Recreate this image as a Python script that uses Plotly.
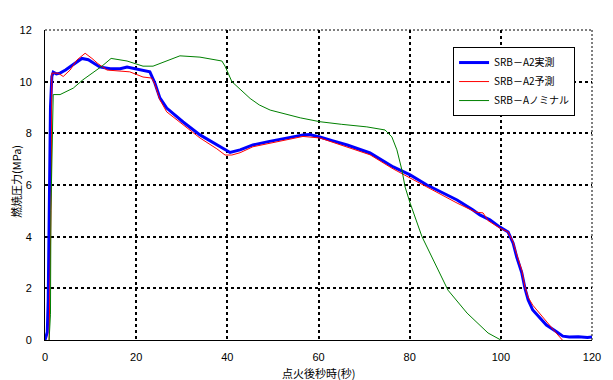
import plotly.graph_objects as go

# --- data ---
names = ["SRB－A2実測", "SRB－A2予測", "SRB－Aノミナル"]

t_meas = [0, 0.5, 0.7, 1.0, 1.2, 1.5, 1.8, 2.5, 3.3, 4.5, 6.2, 8.1, 9.5, 11, 12, 14.3, 16.5, 18,
          20.4, 23, 24.1, 25.2, 26.7, 28.5, 30.3, 34, 37.7, 40.6, 42.8, 45.6, 49, 53, 56.6, 58,
          60.3, 63, 66.3, 71.3, 76.4, 80.1, 83.8, 87, 90.4, 93.9, 95.4, 97.6, 99.8, 101.6, 102.7,
          103.5, 104.6, 105.3, 106, 107, 108.6, 110, 112.3, 113.6, 115, 117, 119, 120]
p_meas = [0, 0.3, 1.5, 5, 9, 10.2, 10.37, 10.3, 10.33, 10.45, 10.65, 10.9, 10.85, 10.7, 10.57,
          10.5, 10.5, 10.57, 10.49, 10.38, 9.95, 9.37, 8.98, 8.7, 8.44, 7.94, 7.55, 7.26, 7.36,
          7.55, 7.68, 7.82, 7.94, 7.95, 7.86, 7.72, 7.55, 7.24, 6.7, 6.39, 6.0, 5.72, 5.42, 5.03,
          4.84, 4.65, 4.37, 4.18, 3.75, 3.2, 2.6, 2.0, 1.55, 1.16, 0.85, 0.58, 0.31, 0.15, 0.12,
          0.13, 0.1, 0.12]

t_pred = [0.9, 1.1, 1.4, 1.5, 2.9, 4.0, 5.5, 7.0, 8.8, 10.3, 11.6, 13.6, 16.5, 18.6, 21.5, 23.4,
          24.1, 25.2, 26.7, 30.3, 34, 37.7, 39.5, 41, 42.8, 45.6, 53, 56.6, 60.3, 66.3, 71.3, 76.4,
          80.1, 83.8, 90.4, 94.5, 96.1, 97.2, 99.8, 101.6, 102.7, 103.5, 104.6, 105.3, 106, 107,
          108.6, 110, 112, 113.5]
p_pred = [0, 2, 6, 10.33, 10.33, 10.2, 10.45, 10.84, 11.1, 10.9, 10.7, 10.45, 10.4, 10.38, 10.18,
          10.14, 9.9, 9.3, 8.83, 8.32, 7.82, 7.4, 7.16, 7.16, 7.25, 7.48, 7.75, 7.88, 7.82, 7.48,
          7.17, 6.62, 6.27, 5.9, 5.3, 4.95, 4.92, 4.62, 4.33, 4.18, 3.8, 3.3, 2.7, 2.05, 1.65, 1.35,
          1.0, 0.7, 0.3, 0.0]

t_nom = [0.9, 1.2, 1.3, 1.6, 1.8, 3.3, 6.2, 8.3, 12.5, 14.5, 16.5, 18, 21.5, 23.7, 29.6, 34,
         38.8, 39.5, 41, 42.8, 45, 47, 49.4, 56, 60.3, 65, 70.6, 74.6, 76.1, 77.2, 78.3, 79, 80.1,
         82.7, 84.9, 88.4, 92.6, 97.2, 100]
p_nom = [0, 1, 5, 8.2, 9.5, 9.5, 9.75, 10.07, 10.6, 10.9, 10.84, 10.8, 10.6, 10.6, 11.0, 10.95,
         10.8, 10.6, 10.0, 9.7, 9.35, 9.1, 8.9, 8.6, 8.45, 8.35, 8.25, 8.13, 7.86, 7.36, 6.58,
         5.92, 5.3, 4.0, 3.2, 1.93, 1.04, 0.27, 0]

x_ticks = [0, 20, 40, 60, 80, 100, 120]
y_ticks = [0, 2, 4, 6, 8, 10, 12]

x_title = "点火後秒時(秒)"
y_title = "燃焼圧力(MPa)"

FONT = "Liberation Sans, Noto Sans CJK JP, sans-serif"
JP = "Noto Sans CJK JP, Liberation Sans"

fig = go.Figure()
fig.add_trace(go.Scatter(x=t_meas, y=p_meas, mode="lines", name=names[0],
                         line=dict(color="#0000FF", width=3)))
fig.add_trace(go.Scatter(x=t_pred, y=p_pred, mode="lines", name=names[1],
                         line=dict(color="#FF0000", width=1)))
fig.add_trace(go.Scatter(x=t_nom, y=p_nom, mode="lines", name=names[2],
                         line=dict(color="#008000", width=1)))

grid = dict(showgrid=True, gridcolor="black", gridwidth=2, griddash="3px,3px")

# page body has an 8px default margin, so the figure is 8px smaller and offset accordingly
fig.update_layout(
    width=605, height=372,
    margin=dict(l=37, r=21, t=22, b=40),
    paper_bgcolor="white", plot_bgcolor="white",
    font=dict(family=FONT, size=11, color="black"),
    showlegend=True,
    legend=dict(x=0.746, y=0.945, xanchor="left", yanchor="top",
                bgcolor="white", bordercolor="black", borderwidth=1,
                font=dict(family=JP, size=10),
                tracegroupgap=0, itemwidth=30),
    xaxis=dict(range=[0, 120], tickvals=x_ticks, ticktext=[str(v) for v in x_ticks],
               showline=True, linecolor="black", linewidth=1, zeroline=False,
               ticks="", ticklabelstandoff=7, automargin=False, **grid),
    yaxis=dict(range=[0, 12], tickvals=y_ticks, ticktext=[str(v) for v in y_ticks],
               showline=True, linecolor="black", linewidth=1, zeroline=False,
               ticks="", ticklabelstandoff=10, automargin=False, **grid),
    annotations=[
        dict(text=x_title, xref="paper", yref="paper", x=0.5, y=-0.106,
             xanchor="center", yanchor="middle", showarrow=False,
             font=dict(family=JP, size=11)),
        dict(text=y_title, xref="paper", yref="paper", x=-0.053, y=0.51,
             xanchor="center", yanchor="middle", showarrow=False, textangle=-90,
             font=dict(family=JP, size=11)),
    ],
    shapes=[
        dict(type="line", xref="paper", yref="paper", x0=0, x1=1, y0=1, y1=1,
             line=dict(color="black", width=1, dash="2px,2px")),
        dict(type="line", xref="paper", yref="paper", x0=1, x1=1, y0=0, y1=1,
             line=dict(color="black", width=1, dash="2px,2px")),
    ],
)

fig.write_html("out.html")
